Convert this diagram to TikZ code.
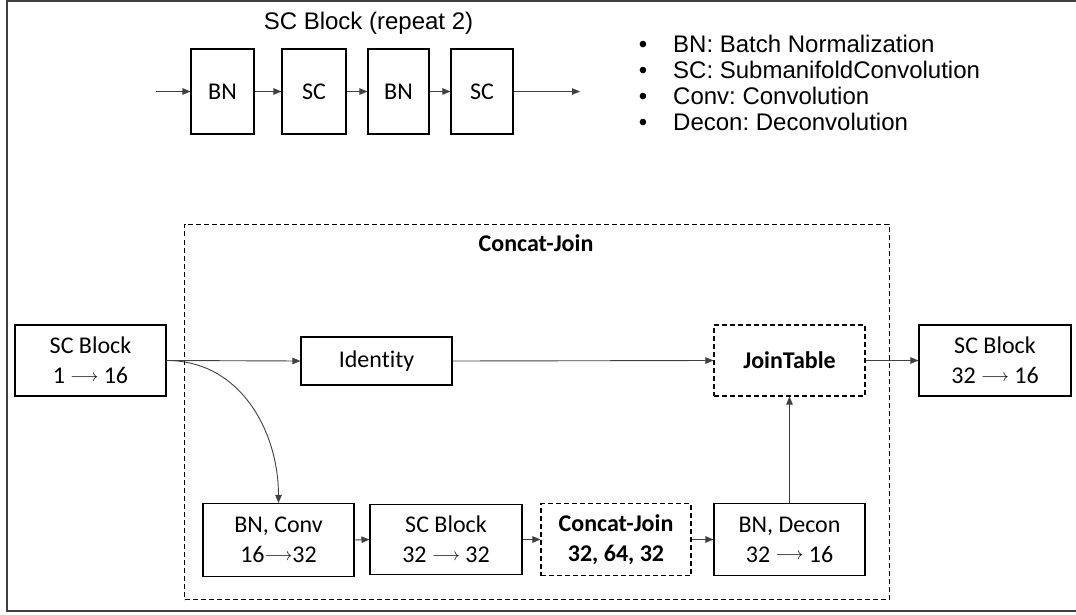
\documentclass[tikz,border=0pt]{standalone}
\usepackage{fontspec}
\setmainfont{Carlito}[Ligatures={NoCommon}]
\newfontfamily\arialf{Liberation Sans}
\usetikzlibrary{arrows.meta}
\newcommand{\myarr}{\raisebox{2.5pt}{\fontsize{18}{20}\selectfont$\longrightarrow$}}
\frenchspacing
\begin{document}
\begin{tikzpicture}[x=1pt,y=-1pt,
  blk/.style={draw=black,line width=1.1pt,inner sep=0pt,align=center,font=\fontsize{24}{30}\selectfont},
  dblk/.style={blk,dash pattern=on 5pt off 3pt,font=\fontsize{24}{30}\selectfont\bfseries},
  conn/.style={draw=black!75,line width=0.9pt,-{Triangle[length=8pt,width=6.5pt]}},
  legtext/.style={font=\arialf\fontsize{24}{26}\selectfont,anchor=base west,inner sep=0pt},
  legbul/.style={font=\arialf\fontsize{24}{26}\selectfont,anchor=base,inner sep=0pt}]
\useasboundingbox (0,0) rectangle (1076,615);
% frame
\draw[black!75,line width=2pt] (1080,1) -- (6.5,1) -- (6.5,610.5) -- (1080,610.5);

% top: SC block definition
\node[font=\arialf\fontsize{24}{28}\selectfont,anchor=base,inner sep=0pt] (title) at (368.5,30) {SC Block (repeat 2)};
\node[blk,minimum width=63pt,minimum height=85pt] (bn1) at (222.5,91.5) {BN};
\node[blk,minimum width=64pt,minimum height=85pt] (sc1) at (314,91.5) {SC};
\node[blk,minimum width=61pt,minimum height=85pt] (bn2) at (398.5,91.5) {BN};
\node[blk,minimum width=62pt,minimum height=85pt] (sc2) at (482,91.5) {SC};
\coordinate (tin) at (156,91.5);
\coordinate (tout) at (580,91.5);
\draw[conn] (tin) -- (bn1.west);
\draw[conn] (bn1.east) -- (sc1.west);
\draw[conn] (sc1.east) -- (bn2.west);
\draw[conn] (bn2.east) -- (sc2.west);
\draw[conn] (sc2.east) -- (tout);

% legend
\node[legbul] (b1) at (643,52.5) {•};
\node[legbul] (b2) at (643,78.5) {•};
\node[legbul] (b3) at (643,104.5) {•};
\node[legbul] (b4) at (643,130.5) {•};
\node[legtext] (l1) at (673,52.5) {BN: Batch Normalization};
\node[legtext] (l2) at (673,78.5) {SC: SubmanifoldConvolution};
\node[legtext] (l3) at (673,104.5) {Conv: Convolution};
\node[legtext] (l4) at (673,130.5) {Decon: Deconvolution};

% concat-join container
\node[draw=black,line width=1pt,dash pattern=on 5pt off 3pt,inner sep=0pt,minimum width=704.5pt,minimum height=375.5pt] (cjbox) at (536.75,411.75) {};
\node[font=\fontsize{24}{30}\selectfont\bfseries,inner sep=0pt] (cjlabel) at (536,243) {Concat-Join};

% main nodes
\node[blk,minimum width=151pt,minimum height=71pt] (scin) at (90.5,360.5) {SC Block\\1 \myarr{} 16};
\node[blk,minimum width=151pt,minimum height=48pt] (ident) at (376.5,361) {Identity};
\node[dblk,minimum width=151pt,minimum height=71pt] (join) at (789.5,360.5) {JoinTable};
\node[blk,minimum width=152pt,minimum height=71pt] (scout) at (995,360.5) {SC Block\\32 \myarr{} 16};
\node[blk,minimum width=151pt,minimum height=73pt] (bnconv) at (278.5,540) {BN, Conv\\16\myarr{}32};
\node[blk,minimum width=152pt,minimum height=70pt] (scb32) at (446,539.5) {SC Block\\32 \myarr{} 32};
\node[dblk,minimum width=150pt,minimum height=72pt] (cj) at (616,539.5) {Concat-Join\\32, 64, 32};
\node[blk,minimum width=151pt,minimum height=72pt] (bndecon) at (789.5,539.5) {BN, Decon\\32 \myarr{} 16};

% connectors
\draw[conn] (scin.east) -- (ident.west);
\draw[conn] (scin.east) .. controls +(75,0) and +(0,-70) .. (bnconv.north);
\draw[conn] (ident.east) -- (join.west);
\draw[conn] (join.east) -- (scout.west);
\draw[conn] (bnconv.east) -- (scb32.west);
\draw[conn] (scb32.east) -- (cj.west);
\draw[conn] (cj.east) -- (bndecon.west);
\draw[conn] (bndecon.north) -- (join.south);
\end{tikzpicture}
\end{document}
